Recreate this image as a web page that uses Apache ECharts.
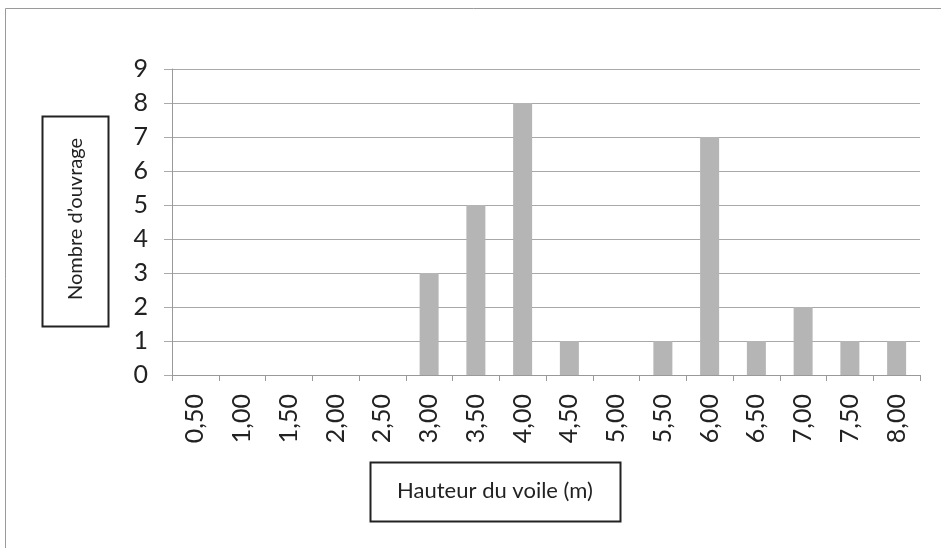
<!DOCTYPE html>
<html>
<head>
<meta charset="utf-8">
<script src="https://cdn.jsdelivr.net/npm/echarts@6/dist/echarts.min.js"></script>
<style>
  html, body { margin: 0; padding: 0; background: #fff; }
  #chart { width: 941px; height: 548px; }
</style>
</head>
<body>
<div id="chart"></div>
<script>
// hauteur du voile (m)
const categories = ['0,50', '1,00', '1,50', '2,00', '2,50', '3,00', '3,50', '4,00',
  '4,50', '5,00', '5,50', '6,00', '6,50', '7,00', '7,50', '8,00']
// nombre d'ouvrages
const counts = [0, 0, 0, 0, 0, 3, 5, 8, 1, 0, 1, 7, 1, 2, 1, 1]
const yTicks = [0, 1, 2, 3, 4, 5, 6, 7, 8, 9]

const font = 'Lato, "Open Sans", sans-serif'
const chart = echarts.init(document.getElementById('chart'))

chart.setOption({
  animation: false,
  backgroundColor: '#fff',
  grid: { left: 172, right: 21, top: 69, bottom: 173 },
  graphic: [
    { // cadre extérieur
      type: 'rect',
      shape: { x: 5.5, y: 8.5, width: 960, height: 560 },
      style: { fill: 'none', stroke: '#9a9a9a', lineWidth: 1 }
    },
    { // titre axe y
      type: 'rect',
      shape: { x: 42.5, y: 116.5, width: 66, height: 210 },
      style: { fill: '#fff', stroke: '#222', lineWidth: 2 }
    },
    {
      type: 'text',
      x: 76, y: 219,
      rotation: Math.PI / 2,
      style: {
        text: 'Nombre d\u2019ouvrage',
        font: '20px ' + font,
        fill: '#222',
        align: 'center',
        verticalAlign: 'middle'
      }
    },
    { // titre axe x
      type: 'rect',
      shape: { x: 370.5, y: 462.5, width: 250, height: 59 },
      style: { fill: '#fff', stroke: '#222', lineWidth: 2 }
    },
    {
      type: 'text',
      x: 495, y: 491,
      style: {
        text: 'Hauteur du voile (m)',
        font: '22px ' + font,
        fill: '#222',
        align: 'center',
        verticalAlign: 'middle'
      }
    }
  ],
  xAxis: {
    type: 'category',
    data: categories,
    axisLine: { lineStyle: { color: '#999', width: 1 } },
    axisTick: { show: true, length: 6, lineStyle: { color: '#999' } },
    axisLabel: {
      rotate: 90,
      interval: 0,
      margin: 19,
      fontSize: 25,
      fontFamily: font,
      color: '#222'
    }
  },
  yAxis: {
    type: 'value',
    min: yTicks[0],
    max: yTicks[yTicks.length - 1],
    interval: 1,
    axisLine: { show: true, lineStyle: { color: '#999', width: 1 } },
    axisTick: { show: true, length: 8, lineStyle: { color: '#aaa' } },
    axisLabel: {
      margin: 24,
      fontSize: 25,
      fontFamily: font,
      color: '#222'
    },
    splitLine: { lineStyle: { color: '#a8a8a8', width: 1 } }
  },
  series: [{
    type: 'bar',
    data: counts,
    barWidth: 19,
    itemStyle: { color: '#b5b5b5' }
  }]
})
</script>
</body>
</html>
